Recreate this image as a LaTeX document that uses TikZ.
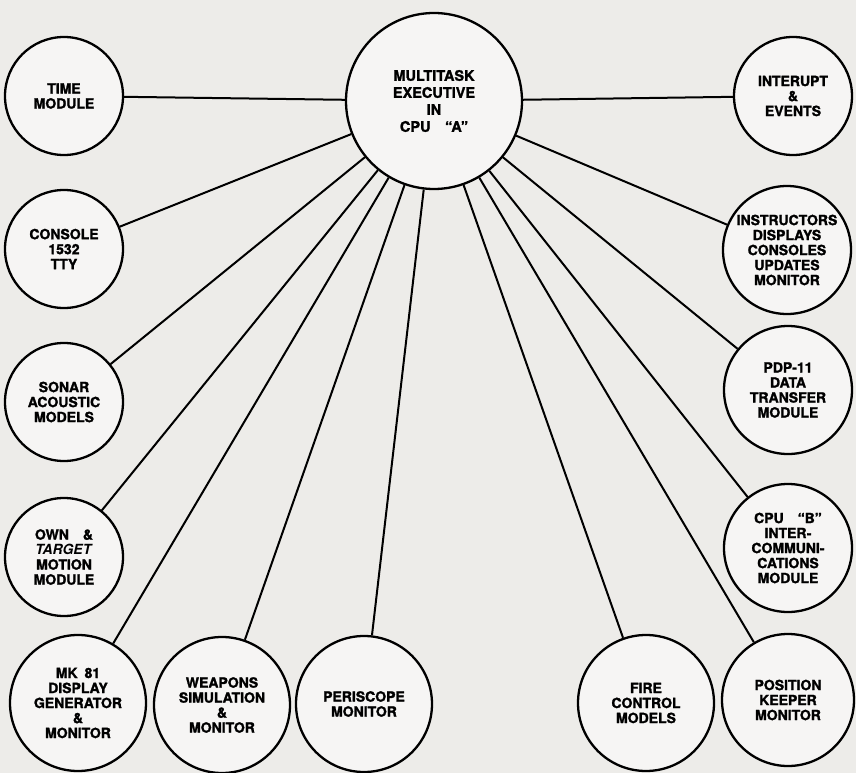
\documentclass[tikz,border=0pt]{standalone}
\usepackage{fontspec}
\setmainfont{TeX Gyre Heros}[BoldFeatures={FakeBold=1.6}]
\usetikzlibrary{shapes,positioning}
\definecolor{paper}{RGB}{237,236,233}
\tikzset{module/.style={draw, circle, line width=2.3pt, fill=paper!50!white, inner sep=0pt, align=center,
  font=\bfseries\fontsize{14}{15}\selectfont}}
\tikzstyle{sm}=[module, minimum size=118pt]
\tikzstyle{md}=[module, minimum size=128pt]
\tikzstyle{lg}=[module, minimum size=136pt]
\tikzstyle{core}=[module, minimum size=176pt, font=\bfseries\fontsize{14.5}{17}\selectfont]

\begin{document}
\begin{tikzpicture}[x=1pt, y=-1pt, line width=2pt]
\fill[paper] (0,0) rectangle (856,773);
\useasboundingbox (0,0) rectangle (856,773);
% executive
\node[core] (exec) at (434,101) {MULTITASK\\EXECUTIVE\\IN\\CPU\quad “A”};
% left column
\node[sm] (time) at (64,96) {TIME\\MODULE};
\node[sm] (console) at (64,249) {CONSOLE\\1532\\TTY};
\node[sm] (sonar) at (64,402) {SONAR\\ACOUSTIC\\MODELS};
\node[sm] (own) at (64,557) {OWN\quad\&\\\textit{TARGET}\\MOTION\\MODULE};
% right column
\node[sm] (interupt) at (793,96) {INTERUPT\\\&\\EVENTS};
\node[md] (instr) at (787,250) {INSTRUCTORS\\DISPLAYS\\CONSOLES\\UPDATES\\MONITOR};
\node[md] (pdp) at (788,390) {PDP-11\\DATA\\TRANSFER\\MODULE};
\node[md] (cpub) at (788,548) {CPU\quad “B”\\INTER-\\COMMUNI-\\CATIONS\\MODULE};
% bottom row
\node[lg] (mk) at (78,703) {MK\enspace 81\\DISPLAY\\GENERATOR\\\&\\MONITOR};
\node[lg] (weapons) at (222,705) {WEAPONS\\SIMULATION\\\&\\MONITOR};
\node[lg] (peri) at (364,704) {PERISCOPE\\MONITOR};
\node[lg] (fire) at (646,703) {FIRE\\CONTROL\\MODELS};
\node[md, minimum size=132pt] (pos) at (788,700) {POSITION\\KEEPER\\MONITOR};
% links
\foreach \m in {time,console,sonar,own,mk,weapons,peri,fire,pos,cpub,pdp,instr,interupt}
  \draw (exec) -- (\m);
\end{tikzpicture}
\end{document}
